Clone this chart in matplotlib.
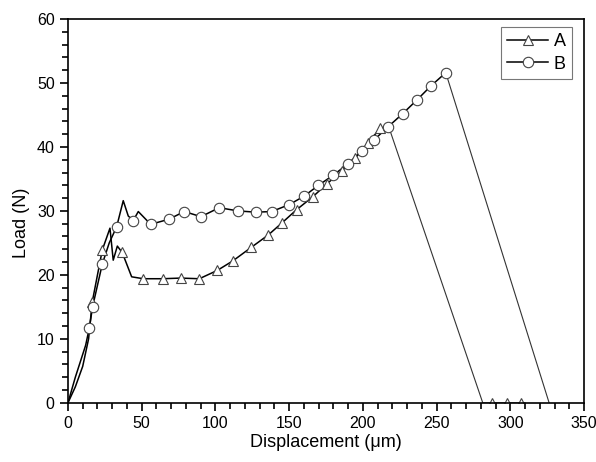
import numpy as np
import matplotlib.pyplot as plt
from matplotlib.ticker import MultipleLocator

plt.rcParams['font.family'] = ['Liberation Sans', 'DejaVu Sans']

# curve A (triangles)
a_x = [0, 5, 10, 14, 16.5, 23.3, 28.5, 30.7, 33.5, 36.8, 43.2, 51.1, 64.2, 76.4, 89.1,
       101.3, 111.9, 124.3, 135.9, 145, 155.1, 166, 175.5, 185.7, 194.7, 203.3, 211.7,
       217.3, 281.3, 287.4, 297.5, 307.3, 310]
a_y = [0, 2.5, 5.7, 10, 15.8, 23.9, 27.3, 22.3, 24.5, 23.5, 19.7, 19.4, 19.4, 19.5, 19.4,
       20.7, 22.2, 24.3, 26.25, 28.1, 30.2, 32.2, 34.2, 36.25, 38.2, 40.6, 42.9,
       43.3, 0, 0, 0, 0, 0]
a_marks = [4, 5, 9, 11, 12, 13, 14, 15, 16, 17, 18, 19, 20, 21, 22, 23, 24, 25, 26, 29, 30, 31]
a_peak = 27   # index where the sample breaks

# curve B (circles)
b_x = [0, 5, 12, 14.5, 16.7, 23.3, 28, 33, 37.5, 40.9, 44.3, 47.7, 56.1, 68.5, 78.9, 90.2,
       102.6, 115.3, 127.4, 138.2, 150.2, 160.1, 169.9, 180, 190.2, 199.2, 207.6, 216.9,
       227, 236.5, 246, 256.2, 326.3]
b_y = [0, 4, 9, 11.7, 15.0, 21.7, 25, 27.5, 31.6, 29.2, 28.5, 29.9, 27.9, 28.7, 29.9, 29.1,
       30.5, 30.0, 29.8, 29.9, 31.0, 32.3, 34.0, 35.6, 37.4, 39.4, 41.1, 43.1,
       45.2, 47.3, 49.5, 51.6, 0]
b_marks = [3, 4, 5, 7, 10, 12, 13, 14, 15, 16, 17, 18, 19, 20, 21, 22, 23, 24, 25, 26, 27,
           28, 29, 30, 31]
b_peak = 31

fig = plt.figure(figsize=(5.96, 4.62), dpi=100)
ax = fig.add_axes([0.114, 0.128, 0.866, 0.831])

# thin drop lines after failure
ax.plot(a_x[a_peak:], a_y[a_peak:], color='#333333', lw=0.8)
ax.plot(b_x[b_peak:], b_y[b_peak:], color='#333333', lw=0.8)

mk = dict(mfc='white', mec='#444444', mew=0.8, ms=7.5, color='black', lw=1.1)
ax.plot(a_x, a_y, ls='none', marker='^', markevery=a_marks, **mk)
ax.plot(b_x, b_y, ls='none', marker='o', markevery=b_marks, **mk)
ax.plot(a_x[:a_peak + 1], a_y[:a_peak + 1], color='black', lw=1.1, zorder=1.9)
ax.plot(b_x[:b_peak + 1], b_y[:b_peak + 1], color='black', lw=1.1, zorder=1.9)

# legend handles
ax.plot([], [], marker='^', label='A', **mk)
ax.plot([], [], marker='o', label='B', **mk)

ax.set_xlim(0, 350)
ax.set_ylim(0, 60)
ax.xaxis.set_major_locator(MultipleLocator(50))
ax.xaxis.set_minor_locator(MultipleLocator(10))
ax.yaxis.set_major_locator(MultipleLocator(10))
ax.yaxis.set_minor_locator(MultipleLocator(2))
ax.tick_params(which='both', direction='out', top=False, right=False, labelsize=11.5)
ax.tick_params(which='major', length=6, width=1.2)
ax.tick_params(which='minor', length=4, width=1.2)
for s in ax.spines.values():
    s.set_linewidth(1.2)

ax.set_xlabel('Displacement (μm)', fontsize=13, labelpad=2)
ax.set_ylabel('Load (N)', fontsize=13)
ax.yaxis.set_label_coords(-0.074, 0.47)

leg = ax.legend(loc='upper right', bbox_to_anchor=(0.977, 0.979), borderaxespad=0,
                fontsize=13, frameon=True, fancybox=False, edgecolor='#555555',
                handlelength=2.3, borderpad=0.35, labelspacing=0.3, handletextpad=0.3)
leg.get_frame().set_linewidth(0.8)

fig.savefig('out.png', dpi=100)
